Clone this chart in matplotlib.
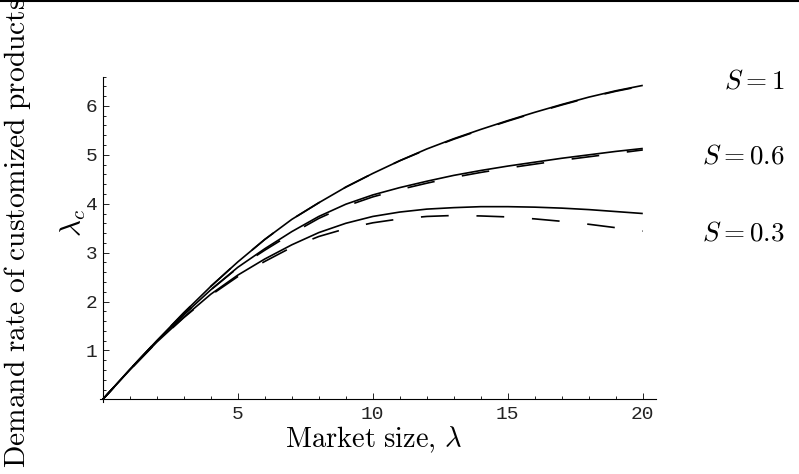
import matplotlib
matplotlib.use("Agg")
import matplotlib.pyplot as plt
from matplotlib.lines import Line2D
from matplotlib.ticker import MultipleLocator

plt.rcParams["mathtext.fontset"] = "cm"
plt.rcParams["lines.scale_dashes"] = False

# market size (lambda) sample points
lam = [0, 1, 2, 3, 4, 5, 6, 7, 8, 9, 10, 11, 12, 13, 14, 15, 16, 17, 18, 19, 20]

# solid curves
s1_solid = [0, 0.61, 1.20, 1.77, 2.31, 2.81, 3.27, 3.68, 4.02, 4.34, 4.62, 4.88, 5.12,
            5.33, 5.52, 5.70, 5.87, 6.03, 6.18, 6.31, 6.42]
s06_solid = [0, 0.61, 1.19, 1.73, 2.24, 2.70, 3.08, 3.43, 3.74, 3.99, 4.18, 4.33, 4.46,
             4.58, 4.68, 4.77, 4.85, 4.93, 5.00, 5.07, 5.13]
s03_solid = [0, 0.60, 1.17, 1.68, 2.15, 2.54, 2.87, 3.16, 3.41, 3.60, 3.74, 3.83, 3.89,
             3.92, 3.94, 3.94, 3.93, 3.91, 3.88, 3.84, 3.80]

# dashed curves
s1_dash = [0, 0.61, 1.20, 1.77, 2.31, 2.81, 3.27, 3.68, 4.02, 4.34, 4.62, 4.88, 5.11,
           5.32, 5.51, 5.69, 5.86, 6.02, 6.17, 6.30, 6.41]
s06_dash = [0, 0.61, 1.19, 1.73, 2.24, 2.69, 3.05, 3.39, 3.70, 3.95, 4.14, 4.29, 4.42,
            4.54, 4.64, 4.73, 4.81, 4.89, 4.96, 5.03, 5.10]
s03_dash = [0, 0.60, 1.17, 1.67, 2.13, 2.51, 2.82, 3.11, 3.33, 3.49, 3.61, 3.69, 3.74,
            3.76, 3.75, 3.73, 3.69, 3.64, 3.58, 3.51, 3.44]

labels_s = [r"$S = 1$", r"$S = 0.6$", r"$S = 0.3$"]
label_y = [0.8276, 0.6694, 0.5084]

fig = plt.figure(figsize=(7.99, 4.74), dpi=100)
ax = fig.add_axes([0.1253, 0.1524, 0.6961, 0.686])

for ys in (s1_solid, s06_solid, s03_solid):
    ax.plot(lam, ys, color="black", lw=1.2, solid_capstyle="butt")
for ys in (s1_dash, s06_dash, s03_dash):
    ax.plot(lam, ys, color="black", lw=1.2, linestyle=(8, (20, 20)), dash_capstyle="butt")

ax.set_xlim(-0.1, 20.5)
ax.set_ylim(-0.05, 6.6)

for side in ("top", "right"):
    ax.spines[side].set_visible(False)
ax.spines["left"].set_position(("data", 0))
ax.spines["bottom"].set_position(("data", 0))
for side in ("left", "bottom"):
    ax.spines[side].set_linewidth(0.8)

ax.xaxis.set_minor_locator(MultipleLocator(1))
ax.yaxis.set_minor_locator(MultipleLocator(0.2))
ax.set_xticks([5, 10, 15, 20])
ax.set_yticks([1, 2, 3, 4, 5, 6])
ax.tick_params(which="both", direction="in", width=0.7, colors="#222222")
ax.tick_params(which="major", length=4)
ax.tick_params(which="minor", length=2.2)
ax.tick_params(axis="x", pad=5)
ax.tick_params(axis="y", pad=4)
for lab in ax.get_xticklabels() + ax.get_yticklabels():
    lab.set_fontfamily("Liberation Mono")
    lab.set_fontsize(14)

fig.text(0.4677, 0.072, r"$\mathrm{Market\ size,}\,\lambda$", ha="center", va="center",
         fontsize=20.5)
fig.text(0.0225, 0.0127, r"$\mathrm{Demand\ rate\ of\ customized\ products}$",
         rotation=90, ha="center", va="bottom", fontsize=21.2)
fig.text(0.092, 0.53, r"$\lambda_c$", rotation=90, ha="center", va="center", fontsize=21)

for txt, yy in zip(labels_s, label_y):
    fig.text(0.9825, yy, txt, ha="right", va="center", fontsize=19.5)

fig.add_artist(Line2D([0, 1], [0.998, 0.998], transform=fig.transFigure,
                      color="black", lw=1.5))

fig.savefig("out.png", dpi=100)
